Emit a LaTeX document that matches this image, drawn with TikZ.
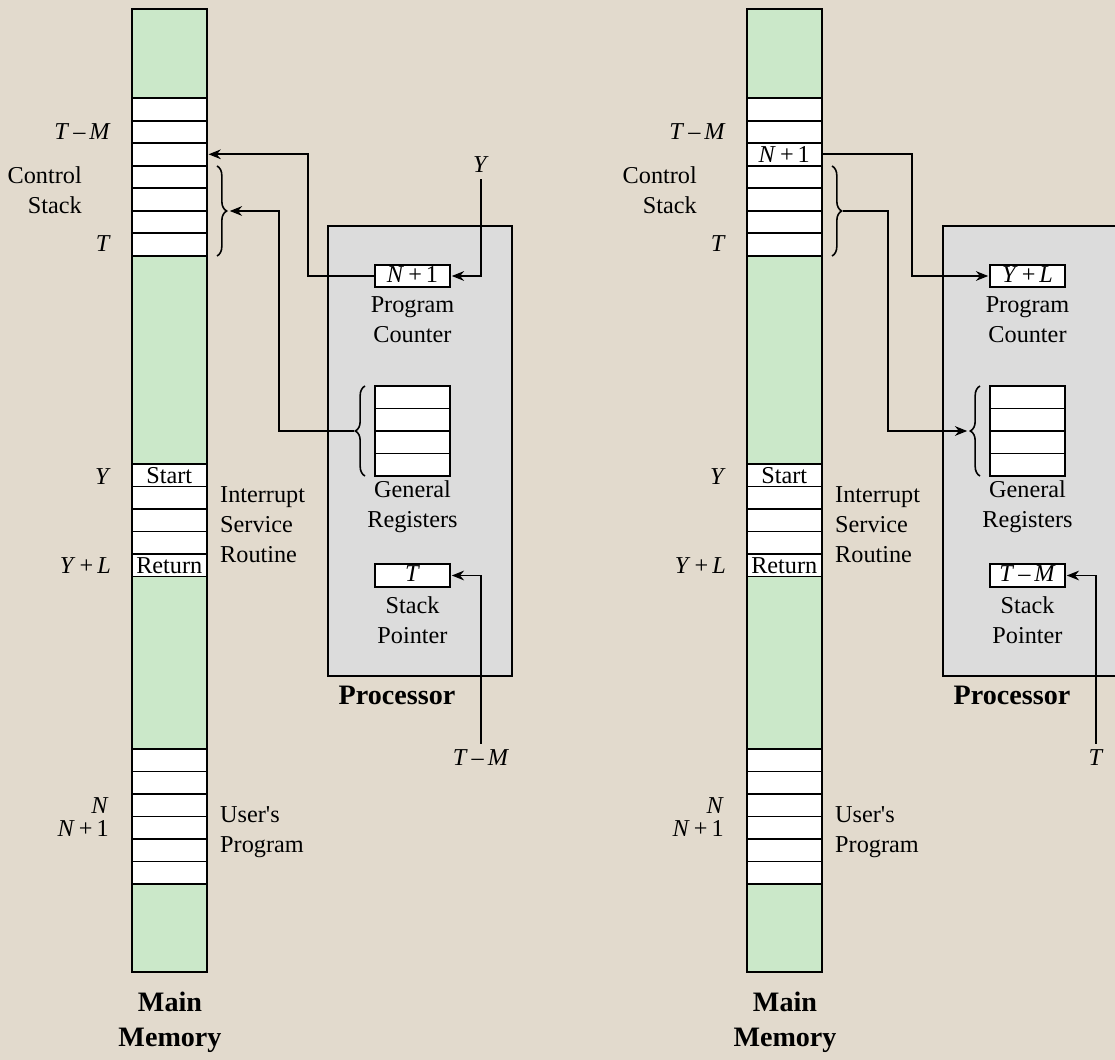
\documentclass[tikz,border=0pt]{standalone}
\usepackage{fontspec}
\setmainfont{Liberation Serif}
\usetikzlibrary{arrows.meta, positioning, decorations.pathreplacing}
\definecolor{paper}{RGB}{226,218,205}
\definecolor{memgreen}{RGB}{203,232,201}
\definecolor{procgray}{RGB}{220,220,220}

\begin{document}
\begin{tikzpicture}[x=0.02cm, y=-0.02cm, >={Stealth[length=7pt, width=5.5pt]}, font=\fontsize{13.8}{17}\selectfont]
    \tikzset{memory/.style = {rectangle, draw, line width=1.1pt, fill=memgreen, minimum width=1.5cm, inner sep=0pt, outer sep=0pt}}
    \tikzset{cell/.style = {rectangle, draw, line width=1.1pt, fill=white, minimum width=1.5cm, minimum height=0.45cm, inner sep=0pt, outer sep=0pt, text height=9.5pt, text depth=2.5pt}}
    \tikzset{processor/.style = {rectangle, draw, line width=1.1pt, fill=procgray, inner sep=0pt, outer sep=0pt}}
    \tikzset{heading/.style = {font=\fontsize{16}{20}\selectfont\bfseries, align=center}}
    \tikzset{arrow/.style = {draw, ->, line width=1pt, shorten >=1pt}}
    \tikzset{bracket/.style = {draw, decorate, decoration={brace, amplitude=5.5pt}, line width=0.9pt}}

    % Paper
    \clip (0,0) rectangle (1115,1060);
    \fill[paper] (0,0) rectangle (1115,1060);

    % ---------------- Left: before the interrupt ----------------
    % Main memory
    \node[memory, minimum height=19.26cm] (Lmem) at (169.25,490.5) {};
    \foreach \i in {1,...,7}
        \node[cell] (Lcs\i) at (169.25,{86.8+22.5*\i}) {};
    \foreach \i in {1,...,5}
        \node[cell] (Lisr\i) at (169.25,{452.75+22.5*\i}) {};
    \foreach \i in {1,...,6}
        \node[cell] (Lusr\i) at (169.25,{737.75+22.5*\i}) {};
    \node at (Lisr1) {Start};
    \node at (Lisr5) {Return};

    \node[anchor=east] (Ltmm) at (117,132) {\textit{T}\,–\,\textit{M}};
    \node[anchor=east, align=right] (Lctl) at (88,190) {Control\\Stack};
    \node[anchor=east] (Lt) at (117,244) {\textit{T}};
    \node[anchor=east] (Ly) at (117,477) {\textit{Y}};
    \node[anchor=east] (Lyl) at (117,566) {\textit{Y}\,+\,\textit{L}};
    \node[anchor=west, align=left] (Lisr) at (214,525) {Interrupt\\Service\\Routine};
    \node[anchor=east] (Ln) at (115,806) {\textit{N}};
    \node[anchor=east] (Ln1) at (115,828) {\textit{N}\,+\,1};
    \node[anchor=west, align=left] (Lusr) at (214,832) {User\textquotesingle s\\Program};
    \node[heading] (Lmain) at (170,1022) {Main\\Memory};

    \draw[bracket] (217,166) -- (217,256);
    \coordinate (Lcsb) at (228,211);

    % Processor
    \node[processor, minimum width=3.68cm, minimum height=9cm] (Lproc) at (420,451) {};
    \node[heading] (Lproclbl) at (397,695) {Processor};
    \node[cell] (Lpc) at (412.5,276) {\textit{N}\,+\,1};
    \node[align=center] (Lpclbl) at (412.5,320) {Program\\Counter};
    \foreach \i in {1,...,4}
        \node[cell] (Lgr\i) at (412.5,{374.75+22.5*\i}) {};
    \node[align=center] (Lgrlbl) at (412.5,507) {General\\Registers};
    \node[cell] (Lsp) at (412.5,575.5) {\textit{T}};
    \node[align=center] (Lsplbl) at (412.5,620) {Stack\\Pointer};

    \draw[bracket] (365,476) -- (365,386);
    \coordinate (Lgrb) at (354,431);

    % Connections
    \node (Lyin) at (481,165) {\textit{Y}};
    \node (Ltmin) at (481,758) {\textit{T}\,–\,\textit{M}};
    \draw[arrow] (Lpc.west) -- ++(-67,0) |- (Lcs3.east);
    \draw[arrow] (Lgrb) -- (279,431) |- (Lcsb);
    \draw[arrow] (Lyin.south) |- (Lpc.east);
    \draw[arrow] (Ltmin.north) |- (Lsp.east);

    % ---------------- Right: after the interrupt ----------------
    % Main memory
    \node[memory, minimum height=19.26cm] (Rmem) at (784.25,490.5) {};
    \foreach \i in {1,...,7}
        \node[cell] (Rcs\i) at (784.25,{86.8+22.5*\i}) {};
    \foreach \i in {1,...,5}
        \node[cell] (Risr\i) at (784.25,{452.75+22.5*\i}) {};
    \foreach \i in {1,...,6}
        \node[cell] (Rusr\i) at (784.25,{737.75+22.5*\i}) {};
    \node at (Rcs3) {\textit{N}\,+\,1};
    \node at (Risr1) {Start};
    \node at (Risr5) {Return};

    \node[anchor=east] (Rtmm) at (732,132) {\textit{T}\,–\,\textit{M}};
    \node[anchor=east, align=right] (Rctl) at (703,190) {Control\\Stack};
    \node[anchor=east] (Rt) at (732,244) {\textit{T}};
    \node[anchor=east] (Ry) at (732,477) {\textit{Y}};
    \node[anchor=east] (Ryl) at (732,566) {\textit{Y}\,+\,\textit{L}};
    \node[anchor=west, align=left] (Risr) at (829,525) {Interrupt\\Service\\Routine};
    \node[anchor=east] (Rn) at (730,806) {\textit{N}};
    \node[anchor=east] (Rn1) at (730,828) {\textit{N}\,+\,1};
    \node[anchor=west, align=left] (Rusr) at (829,832) {User\textquotesingle s\\Program};
    \node[heading] (Rmain) at (785,1022) {Main\\Memory};

    \draw[bracket] (832,166) -- (832,256);
    \coordinate (Rcsb) at (843,211);

    % Processor
    \node[processor, anchor=north west, minimum width=4cm, minimum height=9cm] (Rproc) at (943,226) {};
    \node[heading] (Rproclbl) at (1012,695) {Processor};
    \node[cell] (Rpc) at (1027.5,276) {\textit{Y}\,+\,\textit{L}};
    \node[align=center] (Rpclbl) at (1027.5,320) {Program\\Counter};
    \foreach \i in {1,...,4}
        \node[cell] (Rgr\i) at (1027.5,{374.75+22.5*\i}) {};
    \node[align=center] (Rgrlbl) at (1027.5,507) {General\\Registers};
    \node[cell] (Rsp) at (1027.5,575.5) {\textit{T}\,–\,\textit{M}};
    \node[align=center] (Rsplbl) at (1027.5,620) {Stack\\Pointer};

    \draw[bracket] (980,476) -- (980,386);
    \coordinate (Rgrb) at (969,431);

    % Connections
    \node (Rtin) at (1096,758) {\textit{T}};
    \draw[arrow] (Rcs3.east) -- ++(90,0) |- (Rpc.west);
    \draw[arrow] (Rcsb) -- (888,211) |- (Rgrb);
    \draw[arrow] (Rtin.north) |- (Rsp.east);
\end{tikzpicture}
\end{document}
